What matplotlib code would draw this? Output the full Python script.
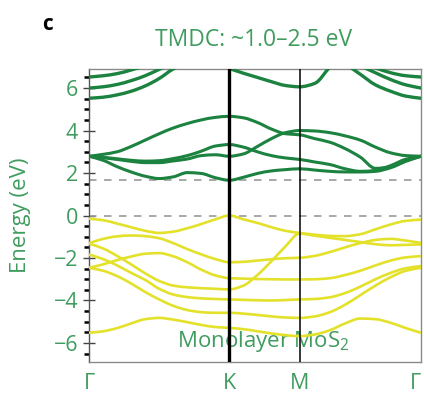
import numpy as np
import matplotlib
matplotlib.use("Agg")
import matplotlib.pyplot as plt
from matplotlib.path import Path
from matplotlib.patches import PathPatch
from matplotlib.ticker import MultipleLocator

plt.rcParams['font.family'] = ['Open Sans', 'DejaVu Sans']
plt.rcParams['mathtext.fontset'] = 'custom'
plt.rcParams['mathtext.rm'] = 'Open Sans'

# k-path Γ-K-M-Γ (units of π/a)
k_GK = [0.0, 0.1333, 0.2667, 0.4, 0.5333, 0.6667, 0.8, 0.9333, 1.0667, 1.2, 1.3333]
k_KM = [1.3333, 1.4667, 1.6, 1.7333, 1.8667, 2.0]
k_MG = [2.0, 2.1443, 2.2887, 2.4330, 2.5774, 2.7217, 2.8660, 3.0104, 3.1547]
k_ticks = [0.0, 1.3333, 2.0, 3.1547]
k_labels = ["Γ", "K", "M", "Γ"]

# conduction bands: (Γ-K, K-M, M-Γ) energies in eV
cb_P = ([2.79, 2.88, 3.00, 3.25, 3.55, 3.85, 4.12, 4.33, 4.50, 4.62, 4.67],
        [4.67, 4.60, 4.38, 4.07, 3.85, 3.80],
        [3.80, 3.62, 3.45, 3.15, 2.75, 2.22, 2.30, 2.58, 2.79])
cb_Q = ([2.79, 2.72, 2.64, 2.55, 2.49, 2.49, 2.57, 2.66, 2.82, 2.86, 2.79],
        [2.79, 2.90, 3.25, 3.62, 3.90, 4.00],
        [4.00, 3.98, 3.90, 3.75, 3.55, 3.22, 2.95, 2.82, 2.79])
cb_R = ([2.79, 2.74, 2.67, 2.60, 2.56, 2.58, 2.68, 2.82, 3.03, 3.27, 3.34],
        [3.34, 3.22, 3.00, 2.82, 2.71, 2.64],
        [2.64, 2.52, 2.40, 2.20, 2.08, 2.12, 2.35, 2.65, 2.79])
cb_S = ([2.79, 2.60, 2.30, 2.05, 1.85, 1.74, 1.82, 2.02, 1.98, 1.78, 1.66],
        [1.66, 1.80, 1.98, 2.10, 2.16, 2.20],
        [2.20, 2.14, 2.08, 2.05, 2.05, 2.08, 2.25, 2.55, 2.79])
# upper conduction bands near Γ and around M (partly beyond the window)
cb_A_k = [0.0, 0.1333, 0.2667, 0.4, 0.5333]
cb_A = [6.52, 6.58, 6.68, 6.85, 7.05]
cb_B_k = [0.0, 0.1333, 0.2667, 0.4, 0.5333, 0.6667, 0.8]
cb_B = [6.00, 6.06, 6.17, 6.35, 6.58, 6.88, 7.15]
cb_C_k = [0.0, 0.1333, 0.2667, 0.4, 0.5333, 0.6667, 0.8, 0.9333]
cb_C = [5.52, 5.57, 5.68, 5.85, 6.10, 6.45, 6.90, 7.20]
cb_D_k = [1.3333, 1.4667, 1.6, 1.7333, 1.8667, 2.0, 2.1443, 2.2887]
cb_D = [6.92, 6.70, 6.50, 6.30, 6.12, 6.06, 6.22, 7.00]
cb_A2_k = [2.7217, 2.8660, 3.0104, 3.1547]
cb_A2 = [6.95, 6.72, 6.58, 6.52]
cb_B2_k = [2.5774, 2.7217, 2.8660, 3.0104, 3.1547]
cb_B2 = [7.05, 6.72, 6.40, 6.15, 6.00]
cb_C2_k = [2.4330, 2.5774, 2.7217, 2.8660, 3.0104, 3.1547]
cb_C2 = [7.15, 6.65, 6.15, 5.85, 5.62, 5.52]

# valence bands: (Γ-K, K-M, M-Γ) energies in eV
vb_1 = ([-0.15, -0.22, -0.38, -0.55, -0.72, -0.82, -0.76, -0.60, -0.40, -0.18, 0.00],
        [0.00, -0.18, -0.35, -0.55, -0.72, -0.82],
        [-0.82, -0.90, -0.96, -0.97, -0.88, -0.65, -0.42, -0.25, -0.19])
vb_2 = ([-1.30, -1.10, -0.98, -0.94, -0.97, -1.07, -1.30, -1.58, -1.83, -2.05, -2.20],
        [-2.20, -2.18, -2.12, -2.06, -2.01, -1.99],
        [-1.99, -1.90, -1.72, -1.50, -1.30, -1.15, -1.10, -1.18, -1.29])
vb_3 = ([-1.84, -2.05, -2.35, -2.70, -3.03, -3.45, -3.72, -3.84, -3.90, -3.93, -3.95],
        [-3.95, -3.97, -3.99, -4.00, -3.98, -3.95],
        [-3.95, -3.93, -3.85, -3.65, -3.35, -3.00, -2.70, -2.48, -2.38])
vb_4 = ([-1.32, -1.55, -1.90, -2.30, -2.72, -3.08, -3.30, -3.38, -3.42, -3.45, -3.48],
        [-3.48, -3.30, -2.80, -2.15, -1.45, -0.85],
        [-0.85, -0.95, -1.05, -1.15, -1.25, -1.35, -1.40, -1.38, -1.36])
vb_5 = ([-2.46, -2.30, -2.10, -1.93, -1.80, -1.77, -1.92, -2.20, -2.55, -2.82, -2.95],
        [-2.95, -2.97, -2.99, -3.00, -3.01, -3.01],
        [-3.01, -3.00, -2.95, -2.80, -2.60, -2.35, -2.12, -1.97, -1.91])
vb_6 = ([-2.46, -2.60, -2.85, -3.20, -3.60, -3.95, -4.25, -4.45, -4.55, -4.58, -4.58],
        [-4.58, -4.62, -4.68, -4.75, -4.80, -4.82],
        [-4.82, -4.75, -4.55, -4.20, -3.75, -3.30, -2.90, -2.60, -2.46])
vb_7 = ([-5.52, -5.45, -5.30, -5.08, -4.88, -4.82, -4.90, -5.02, -5.15, -5.25, -5.29],
        [-5.29, -5.35, -5.45, -5.55, -5.63, -5.68],
        [-5.68, -5.60, -5.40, -5.08, -4.85, -4.88, -5.05, -5.30, -5.52])

conduction = [cb_P, cb_Q, cb_R, cb_S]
valence = [vb_1, vb_2, vb_3, vb_4, vb_5, vb_6, vb_7]
upper_cb = [(cb_A_k, cb_A), (cb_B_k, cb_B), (cb_C_k, cb_C), (cb_D_k, cb_D),
            (cb_A2_k, cb_A2), (cb_B2_k, cb_B2), (cb_C2_k, cb_C2)]

cbm = 1.66
green_band = '#1c8240'
yellow_band = '#e3e12a'
text_green = '#3f9c5e'


def join_path(band):
    gk, km, mg = band
    k = list(k_GK) + list(k_KM[1:]) + list(k_MG[1:])
    e = list(gk) + list(km[1:]) + list(mg[1:])
    return np.array(k), np.array(e)


def smooth_path(k, e):
    """Cubic Bezier path through the points (monotone tangents)."""
    n = len(k)
    h = np.diff(k)
    d = np.diff(e) / h
    m = np.zeros(n)
    m[0], m[-1] = d[0], d[-1]
    for i in range(1, n - 1):
        if d[i - 1] * d[i] > 0:
            w1 = 2 * h[i] + h[i - 1]
            w2 = h[i] + 2 * h[i - 1]
            m[i] = (w1 + w2) / (w1 / d[i - 1] + w2 / d[i])
        else:
            m[i] = 0.0
    verts = [(k[0], e[0])]
    codes = [Path.MOVETO]
    for i in range(n - 1):
        verts += [(k[i] + h[i] / 3, e[i] + m[i] * h[i] / 3),
                  (k[i + 1] - h[i] / 3, e[i + 1] - m[i + 1] * h[i] / 3),
                  (k[i + 1], e[i + 1])]
        codes += [Path.CURVE4] * 3
    return Path(verts, codes)


fig = plt.figure(figsize=(4.24, 3.94), dpi=100)
ax = fig.add_axes([0.210, 0.081, 0.783, 0.744])
ax.set_xlim(k_ticks[0], k_ticks[-1])
ax.set_ylim(-6.9, 6.9)

for band in valence:
    k, e = join_path(band)
    ax.add_patch(PathPatch(smooth_path(k, e), fill=False, ec=yellow_band,
                           lw=1.9, capstyle='round', joinstyle='round', zorder=3))
for band in conduction:
    k, e = join_path(band)
    ax.add_patch(PathPatch(smooth_path(k, e), fill=False, ec=green_band,
                           lw=2.2, capstyle='round', joinstyle='round', zorder=3))
for kk, ee in upper_cb:
    ax.add_patch(PathPatch(smooth_path(np.array(kk), np.array(ee)), fill=False,
                           ec=green_band, lw=2.4, capstyle='round', zorder=3))

# Fermi level and conduction band minimum
for level in (0.0, cbm):
    ax.axhline(level, color='#9a9a9a', lw=1.2, ls=(0, (4.5, 4.5)), zorder=2)

# high-symmetry points
ax.axvline(k_ticks[1], color='black', lw=2.4, zorder=4)
ax.axvline(k_ticks[2], color='black', lw=1.1, zorder=4)

ax.set_xticks(k_ticks)
ax.set_xticklabels(k_labels)
ax.tick_params(axis='x', length=0, pad=8, labelsize=15.5, labelcolor=text_green)
last = ax.get_xticklabels()[-1]
last.set_horizontalalignment('right')
ax.set_yticks([-6, -4, -2, 0, 2, 4, 6])
ax.set_yticklabels(["\u22126", "\u22124", "\u22122", "0", "2", "4", "6"])
ax.yaxis.set_minor_locator(MultipleLocator(0.5))
ax.tick_params(axis='y', which='major', direction='inout', length=8, width=1.0,
               color='#444444', labelsize=15.5, labelcolor=text_green, pad=4)
ax.tick_params(axis='y', which='minor', direction='out', length=3.5, width=1.8,
               color='black')
for s in ax.spines.values():
    s.set_color('#8a8a8a')
    s.set_linewidth(1.0)
ax.spines['left'].set_color('#555555')

ax.set_ylabel("Energy (eV)", color=text_green, fontsize=16)
ax.yaxis.set_label_coords(-0.175, 0.5)

ax.text(0.524, 0.07, "Monolayer MoS$\\mathregular{_2}$", transform=ax.transAxes,
        ha='center', va='center', fontsize=16, color=text_green, zorder=2.5)

fig.text(0.597, 0.898, "TMDC: ~1.0\u20132.5 eV", ha='center', va='center',
         fontsize=16.5, color=text_green)
fig.text(0.111, 0.937, "c", ha='center', va='center', fontsize=15,
         fontweight='bold', color='black')

fig.savefig("out.png", dpi=100)
